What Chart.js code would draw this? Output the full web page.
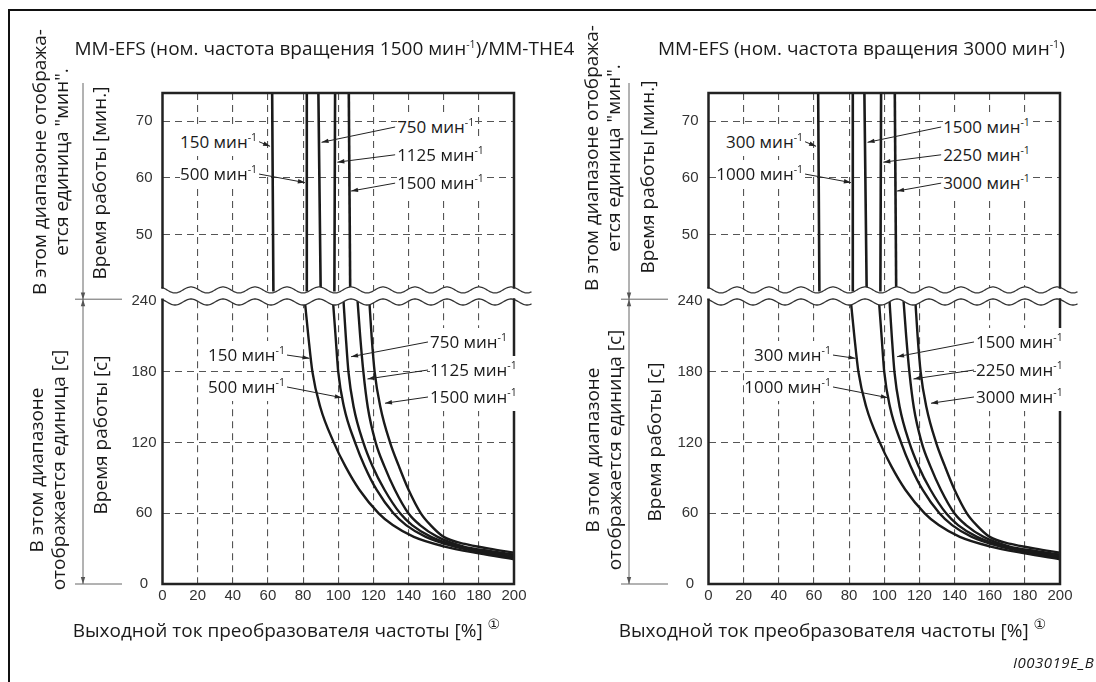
<!DOCTYPE html>
<html>
<head>
<meta charset="utf-8">
<script src="https://cdn.jsdelivr.net/npm/chart.js@4.4.1/dist/chart.umd.min.js"></script>
<style>
  body { margin: 0; background: #fff; }
  #page { position: relative; width: 1096px; height: 682px; overflow: hidden; background: #fff;
          font-family: "Open Sans", sans-serif; color: #1a1a1a; }
  #frame { position: absolute; left: 8px; top: 9px; width: 1200px; height: 800px;
           border-left: 2.5px solid #111; border-top: 2.5px solid #111; }
  .panel { position: absolute; top: 0; width: 546px; height: 682px; }
  .panel canvas { position: absolute; left: 0; top: 0; }
  .txt { position: absolute; white-space: nowrap; font-size: 19px; line-height: 22px; }
  .rot { position: absolute; white-space: nowrap; font-size: 19px; line-height: 22px; text-align: center;
         transform: translate(-50%, -50%) rotate(-90deg); }
  .lbl { position: absolute; white-space: nowrap; font-size: 17px; line-height: 28px; background: #fff; }
  sup { font-size: 10.5px; line-height: 0; vertical-align: 0; position: relative; top: -7px; }
  .circ { font-family: "DejaVu Sans", sans-serif; font-size: 14px; position: relative; top: -8px; }
  .code { position: absolute; left: 1013px; top: 652px; font-size: 15px; line-height: 20px; font-style: italic; letter-spacing: 0.5px; }
</style>
</head>
<body>
<div id="page">
  <div id="frame"></div>
  <div class="panel" id="pL" style="left:0"><canvas id="loL" width="546" height="682"></canvas><canvas id="upL" width="546" height="682"></canvas></div>
  <div class="panel" id="pR" style="left:546px"><canvas id="loR" width="546" height="682"></canvas><canvas id="upR" width="546" height="682"></canvas></div>
  <div class="code">I003019E_B</div>
</div>
<script>
// axis ticks
const xTicks = [0, 20, 40, 60, 80, 100, 120, 140, 160, 180, 200];
const minTicks = [50, 60, 70];
const secTicks = [0, 60, 120, 180, 240];

// range shown in minutes: nearly vertical lines, x at 75 min and at 40 min
const minTimes = [75, 40];
const minLine1 = [62.4, 63.1];
const minLine2 = [82.1, 82.1];
const minLine3 = [88.7, 90.0];
const minLine4 = [98.2, 97.8];
const minLine5 = [106.0, 106.8];

// range shown in seconds: output current [%] / operating time [s]
const secX1 = [81, 83, 85.3, 89.8, 97.5, 104, 112, 123, 131, 143, 160, 180, 200];
const secY1 = [240, 210, 180, 150, 120, 100, 80, 60, 50, 40, 32, 26, 21];
const secX2 = [97, 98.5, 100, 103.3, 109.6, 115, 121.8, 131.4, 138.6, 149.8, 165.5, 181, 200];
const secY2 = [240, 210, 180, 150, 120, 100, 80, 60, 50, 40, 32, 27, 22];
const secX3 = [103, 104.3, 105.8, 108.8, 114.3, 119.5, 126.3, 135.2, 142, 152.8, 168, 183, 200];
const secY3 = [240, 210, 180, 150, 120, 100, 80, 60, 50, 40, 32, 27.5, 23.5];
const secX4 = [111, 112.5, 114.3, 116.8, 121.3, 126.2, 132.2, 139.9, 146.5, 156.5, 171, 186, 200];
const secY4 = [240, 210, 180, 150, 120, 100, 80, 60, 50, 40, 32, 28, 25];
const secX5 = [117.7, 119, 120.7, 124, 129.5, 134.5, 140, 147, 152.5, 160, 172, 186, 200];
const secY5 = [240, 210, 180, 150, 120, 100, 80, 60, 50, 40, 34, 30, 26.5];

// speed labels [1/min]
const speedsL = ['150', '500', '750', '1125', '1500'];
const speedsR = ['300', '1000', '1500', '2250', '3000'];

// where the speed labels sit (data coords) and where their arrows point
const upperNotes = [
  { side: 'left',  at: [53.8, 66.4], tip: [61.2, 65.6] },
  { side: 'left',  at: [53.8, 60.7], tip: [81.0, 59.2] },
  { side: 'right', at: [133.5, 69.0], tip: [90.5, 66.3] },
  { side: 'right', at: [133.5, 64.1], tip: [99.5, 62.8] },
  { side: 'right', at: [133.5, 59.1], tip: [107.3, 57.7] }
];
const lowerNotes = [
  { side: 'left',  at: [69.7, 194.3], tip: [83.6, 191.5] },
  { side: 'left',  at: [69.7, 167.2], tip: [102, 158.1] },
  { side: 'right', at: [152.2, 205.4], tip: [107.3, 192.9] },
  { side: 'right', at: [152.2, 181.6], tip: [116.6, 174] },
  { side: 'right', at: [152.2, 158.7], tip: [126.6, 153.4] }
];

const tickFont = { family: '"Liberation Sans", Arial, sans-serif', size: 15 };
const ink = '#1a1a1a';

function pts(xs, ys) {
  return xs.map((v, i) => ({ x: v, y: ys[i] }));
}

function waveY(ca, base, px) {
  return base + 3 * Math.cos(2 * Math.PI * (px - ca.left - 12.5) / 32);
}

function arrowHead(ctx, x0, y0, x1, y1, len, half) {
  const a = Math.atan2(y1 - y0, x1 - x0);
  ctx.beginPath();
  ctx.moveTo(x1, y1);
  ctx.lineTo(x1 - len * Math.cos(a) + half * Math.sin(a), y1 - len * Math.sin(a) - half * Math.cos(a));
  ctx.lineTo(x1 - len * Math.cos(a) - half * Math.sin(a), y1 - len * Math.sin(a) + half * Math.cos(a));
  ctx.closePath();
  ctx.fill();
}

function makeDecor(part, notes) {
  return {
    id: 'decor',
    afterDraw(chart) {
      const { ctx, chartArea: ca, scales: { x, y } } = chart;
      const x0 = ca.left - 1, x1 = ca.right + 18;
      const base = part === 'upper' ? ca.bottom - 1.5 : ca.top + 0.8;
      const edge = part === 'upper' ? ca.bottom + 4 : ca.top - 3;
      ctx.save();
      // white mask beyond the break line
      ctx.fillStyle = '#fff';
      ctx.beginPath();
      ctx.moveTo(x0, edge);
      for (let px = x0; px <= x1; px += 1) ctx.lineTo(px, waveY(ca, base, px));
      ctx.lineTo(x1, edge);
      ctx.closePath();
      ctx.fill();
      // break line
      ctx.strokeStyle = '#333';
      ctx.lineWidth = 1.3;
      ctx.beginPath();
      for (let px = x0; px <= x1; px += 1) {
        if (px === x0) ctx.moveTo(px, waveY(ca, base, px)); else ctx.lineTo(px, waveY(ca, base, px));
      }
      ctx.stroke();
      // frame of the plot
      ctx.strokeStyle = '#222';
      ctx.lineWidth = 2.5;
      ctx.lineCap = 'square';
      ctx.beginPath();
      if (part === 'upper') {
        ctx.moveTo(ca.left, waveY(ca, base, ca.left));
        ctx.lineTo(ca.left, ca.top);
        ctx.lineTo(ca.right, ca.top);
        ctx.lineTo(ca.right, waveY(ca, base, ca.right));
      } else {
        ctx.moveTo(ca.left, waveY(ca, base, ca.left));
        ctx.lineTo(ca.left, ca.bottom);
        ctx.lineTo(ca.right, ca.bottom);
        ctx.lineTo(ca.right, waveY(ca, base, ca.right));
      }
      ctx.stroke();
      // dimension line left of the axis
      ctx.strokeStyle = '#666';
      ctx.fillStyle = '#555';
      ctx.lineWidth = 1;
      ctx.lineCap = 'butt';
      const dx = 83;
      if (part === 'upper') {
        const ya = ca.top - 10, yb = ca.bottom + 8;
        ctx.beginPath(); ctx.moveTo(dx, ya); ctx.lineTo(dx, yb); ctx.stroke();
        arrowHead(ctx, dx, ya, dx, yb, 7, 2.2);
      } else {
        const ya = ca.top - 2, yb = ca.bottom;
        ctx.beginPath();
        ctx.moveTo(75, ya); ctx.lineTo(122, ya);
        ctx.moveTo(75, yb); ctx.lineTo(122, yb);
        ctx.moveTo(dx, ya); ctx.lineTo(dx, yb);
        ctx.stroke();
        arrowHead(ctx, dx, yb, dx, ya, 7, 2.2);
        arrowHead(ctx, dx, ya, dx, yb, 7, 2.2);
      }
      // label arrows
      ctx.strokeStyle = '#222';
      ctx.fillStyle = '#222';
      notes.forEach(n => {
        const tx = x.getPixelForValue(n.at[0]) + (n.side === 'left' ? 2 : -2);
        const ty = y.getPixelForValue(n.at[1]);
        const hx = x.getPixelForValue(n.tip[0]);
        const hy = y.getPixelForValue(n.tip[1]);
        ctx.beginPath(); ctx.moveTo(tx, ty); ctx.lineTo(hx, hy); ctx.stroke();
        arrowHead(ctx, tx, ty, hx, hy, 7, 2.2);
      });
      ctx.restore();
    }
  };
}

function makeChart(id, part, notes) {
  const upper = part === 'upper';
  const sets = upper
    ? [minLine1, minLine2, minLine3, minLine4, minLine5].map(l => pts(l, minTimes))
    : [[secX1, secY1], [secX2, secY2], [secX3, secY3], [secX4, secY4], [secX5, secY5]].map(p => pts(p[0], p[1]));
  const yTicks = upper ? minTicks : secTicks;
  return new Chart(document.getElementById(id), {
    type: 'scatter',
    data: {
      datasets: sets.map(d => ({
        data: d,
        showLine: true,
        borderColor: ink,
        borderWidth: upper ? 2.6 : 2.4,
        pointRadius: 0,
        cubicInterpolationMode: 'monotone',
        clip: 4
      }))
    },
    options: {
      responsive: false,
      animation: false,
      events: [],
      layout: { padding: upper
        ? { left: 112.5, top: 93, right: 32, bottom: 390.6 }
        : { left: 112.5, top: 301.2, right: 32, bottom: 68 } },
      plugins: { legend: { display: false }, tooltip: { enabled: false } },
      scales: {
        x: {
          type: 'linear', min: 0, max: 200,
          afterBuildTicks: s => { s.ticks = xTicks.map(v => ({ value: v })); },
          afterFit: s => { s.height = upper ? 0 : 30; },
          grid: {
            color: c => (c.tick && (c.tick.value === 0 || c.tick.value === 200)) ? 'rgba(0,0,0,0)' : '#555',
            lineWidth: 1.1, drawTicks: false
          },
          border: { display: false, dash: [7, 5] },
          ticks: { display: !upper, font: tickFont, color: '#333', padding: 3, maxRotation: 0 }
        },
        y: {
          type: 'linear', min: upper ? 40 : 0, max: upper ? 75 : 240,
          afterBuildTicks: s => { s.ticks = yTicks.map(v => ({ value: v })); },
          afterFit: s => { s.width = 50; },
          grid: {
            color: c => (c.tick && (c.tick.value === 0 || c.tick.value === 240)) ? 'rgba(0,0,0,0)' : '#555',
            lineWidth: 1.1, drawTicks: false
          },
          border: { display: false, dash: [7, 5] },
          ticks: { font: tickFont, color: '#333', padding: upper ? 10 : 6, crossAlign: 'center' }
        }
      }
    },
    plugins: [makeDecor(part, notes)]
  });
}

function addText(panel, cls, html, left, top) {
  const el = document.createElement('div');
  el.className = cls;
  el.innerHTML = html;
  el.style.left = left + 'px';
  el.style.top = top + 'px';
  panel.appendChild(el);
  return el;
}

function addLabels(panel, chart, notes, speeds) {
  notes.forEach((n, i) => {
    const el = document.createElement('div');
    el.className = 'lbl';
    el.innerHTML = speeds[i] + ' мин<sup>-1</sup>';
    const px = chart.scales.x.getPixelForValue(n.at[0]);
    const py = chart.scales.y.getPixelForValue(n.at[1]);
    el.style.top = (py - 14) + 'px';
    if (n.side === 'left') el.style.right = (546 - px) + 'px';
    else el.style.left = px + 'px';
    panel.appendChild(el);
  });
}

function buildPanel(side, speeds, title, titleLeft, rotPos) {
  const panel = document.getElementById('p' + side);
  const lo = makeChart('lo' + side, 'lower', lowerNotes);
  const up = makeChart('up' + side, 'upper', upperNotes);
  addText(panel, 'txt', title, titleLeft, 37);
  addText(panel, 'txt', 'Выходной ток преобразователя частоты [%] <span class="circ">①</span>', 72.7, 619);
  addText(panel, 'rot', 'В этом диапазоне отобража-<br>ется единица &quot;мин&quot;.', rotPos[0][0], rotPos[0][1]);
  addText(panel, 'rot', 'Время работы [мин.]', rotPos[1][0], rotPos[1][1]);
  addText(panel, 'rot', 'В этом диапазоне<br>отображается единица [с]', rotPos[2][0], rotPos[2][1]);
  addText(panel, 'rot', 'Время работы [с]', rotPos[3][0], rotPos[3][1]);
  addLabels(panel, up, upperNotes, speeds);
  addLabels(panel, lo, lowerNotes, speeds);
}

buildPanel('L', speedsL, 'MM-EFS (ном. частота вращения 1500 мин<sup>-1</sup>)/MM-THE4', 74.5,
  [[50, 162], [99, 183], [47, 470], [99.5, 435]]);
buildPanel('R', speedsR, 'MM-EFS (ном. частота вращения 3000 мин<sup>-1</sup>)', 112,
  [[55.5, 158], [101, 177], [57, 450], [108, 442]]);
</script>
</body>
</html>
